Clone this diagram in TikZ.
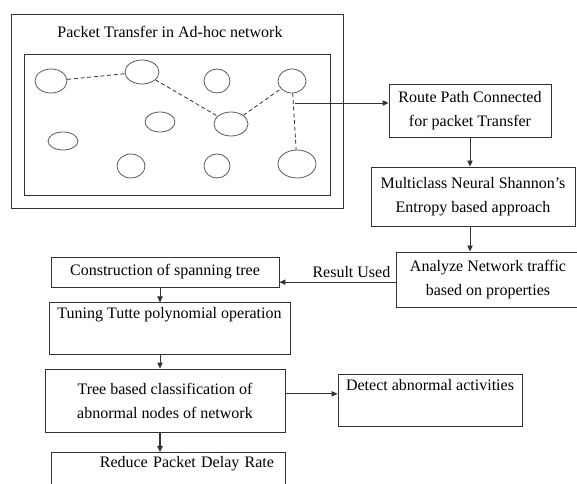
\documentclass[tikz,border=0pt]{standalone}
\usepackage{fontspec}
\setmainfont{Liberation Serif}
\usetikzlibrary{arrows.meta,shapes.geometric}

\begin{document}
\begin{tikzpicture}[
  x=0.75pt, y=-0.75pt,
  box/.style={draw=black!80, line width=0.7pt, align=center,
              font=\fontsize{12}{18}\selectfont},
  nd/.style={draw=black!65, ellipse, inner sep=0pt, line width=0.6pt},
  lk/.style={black!80, line width=0.6pt, dash pattern=on 3pt off 2pt},
  ar/.style={-{Triangle[length=4.5pt,width=4pt]}, black!80, line width=0.7pt}
]
  \useasboundingbox (0,0) rectangle (577,484);

  % network part
  \node[box, minimum width=249pt, minimum height=145.5pt] (outer) at (177,111) {};
  \node[font=\fontsize{12}{18}\selectfont] (title) at (170,32) {Packet Transfer in Ad-hoc network};
  \node[box, minimum width=229.5pt, minimum height=105.75pt] (inner) at (177,124.5) {};

  \node[nd, minimum width=24pt,   minimum height=18pt]   (n1)  at (51,81)   {};
  \node[nd, minimum width=25.5pt, minimum height=18pt]   (n2)  at (142,72)  {};
  \node[nd, minimum width=19.5pt, minimum height=18pt]   (n3)  at (217,81)  {};
  \node[nd, minimum width=21pt,   minimum height=18pt]   (n4)  at (292,81)  {};
  \node[nd, minimum width=22.5pt, minimum height=15pt]   (n5)  at (160,122) {};
  \node[nd, minimum width=25.5pt, minimum height=18pt]   (n6)  at (231,124) {};
  \node[nd, minimum width=22.5pt, minimum height=13.5pt] (n7)  at (63,141)  {};
  \node[nd, minimum width=21pt,   minimum height=18pt]   (n8)  at (131,166) {};
  \node[nd, minimum width=19.5pt, minimum height=18pt]   (n9)  at (217,166) {};
  \node[nd, minimum width=28.5pt, minimum height=21pt]   (n10) at (297,164) {};

  \draw[lk] (n1)--(n2);
  \draw[lk] (n2)--(n6);
  \draw[lk] (n6)--(n4);
  \draw[lk] (n4)--(n10);

  % process chain
  \node[box, minimum width=121.5pt, minimum height=39.75pt] (route) at (470,110.5)
    {Route Path Connected\\for packet Transfer};
  \node[box, minimum width=153pt, minimum height=44.25pt] (multi) at (473,196.5)
    {Multiclass Neural Shannon's\\Entropy based approach};
  \node[box, minimum width=138pt, minimum height=41.25pt] (anl) at (488,279.5)
    {Analyze Network traffic\\based on properties};
  \node[box, minimum width=171pt, minimum height=22.5pt] (constr) at (165,272)
    {Construction of spanning tree};
  \node[box, minimum width=180.75pt, minimum height=32.25pt] (tuning) at (169.5,328.5)
    {Tuning Tutte polynomial operation\\\strut};
  \node[box, minimum width=180pt, minimum height=47.25pt] (tree) at (165,400.5)
    {Tree based classification of\\abnormal nodes of network};
  \node[box, minimum width=138pt, minimum height=33.75pt] (detect) at (430,400.5)
    {Detect abnormal activities\\\strut};
  \node[box, minimum width=175.5pt, minimum height=37.5pt, text width=159pt,
        align=right, inner xsep=8.25pt] (reduce) at (168,478)
    {Reduce Packet Delay Rate\\\strut};

  \coordinate (netout) at (295,103);
  \coordinate (spine) at (160,0);

  \draw[ar] (netout)--(netout -| route.west);
  \draw[ar] (route.south)--(route.south |- multi.north);
  \draw[ar] (route.south |- multi.south)--(route.south |- anl.north);
  \draw[ar] ([yshift=-2pt]anl.west)--([yshift=-2pt]anl.west -| constr.east)
    node[above, pos=0.38, text=black, font=\fontsize{12}{18}\selectfont] {Result Used};
  \draw[ar] (spine |- constr.south)--(spine |- tuning.north);
  \draw[ar] (spine |- tuning.south)--(spine |- tree.north);
  \draw[ar, line width=1.2pt] (spine |- tree.south)--(spine |- reduce.north);
  \draw[ar] ([yshift=5pt]tree.east)--([yshift=5pt]tree.east -| detect.west);
\end{tikzpicture}
\end{document}
